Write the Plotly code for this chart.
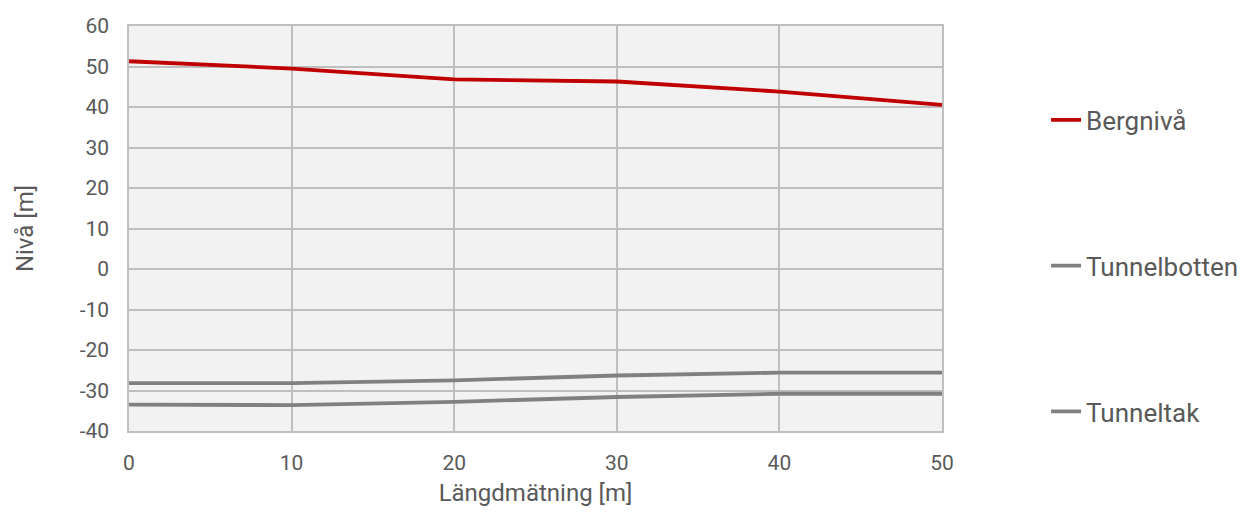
import plotly.graph_objects as go

x_vals = [0, 10, 20, 30, 40, 50]
bergniva = [51.3, 49.5, 46.8, 46.3, 43.8, 40.5]
tunnelbotten = [-28.2, -28.2, -27.5, -26.3, -25.6, -25.6]
tunneltak = [-33.5, -33.6, -32.8, -31.6, -30.8, -30.8]
y_ticks = [-40, -30, -20, -10, 0, 10, 20, 30, 40, 50, 60]
y_tick_labels = ["-40", "-30", "-20", "-10", "0", "10", "20", "30", "40", "50", "60"]

FONT = "Roboto"
TXT = "#595959"

fig = go.Figure()
fig.add_trace(go.Scatter(x=x_vals, y=bergniva, mode="lines", name="Bergnivå",
                         line=dict(color="#C00000", width=3.8), legendgroup="a"))
fig.add_trace(go.Scatter(x=x_vals, y=tunnelbotten, mode="lines", name="Tunnelbotten",
                         line=dict(color="#808080", width=3.8), legendgroup="b"))
fig.add_trace(go.Scatter(x=x_vals, y=tunneltak, mode="lines", name="Tunneltak",
                         line=dict(color="#808080", width=3.8), legendgroup="c"))

fig.update_layout(
    width=1257, height=515,
    margin=dict(l=129, r=315, t=26, b=84),
    paper_bgcolor="white",
    plot_bgcolor="#F2F2F2",
    font=dict(family=FONT, size=21, color=TXT),
    xaxis=dict(range=[0, 50], dtick=10, showgrid=True, gridcolor="#BFBFBF", gridwidth=1.5,
               zeroline=False, showline=True, linecolor="#BFBFBF", linewidth=1.5, mirror=True,
               ticks="", ticklabelstandoff=12,
               title=dict(text="Längdmätning [m]", font=dict(size=24, color=TXT), standoff=10)),
    yaxis=dict(range=[-40, 60], tickvals=y_ticks, ticktext=y_tick_labels,
               showgrid=True, gridcolor="#BFBFBF", gridwidth=1.5,
               zeroline=False, showline=True, linecolor="#BFBFBF", linewidth=1.5, mirror=True,
               ticks="", ticklabelstandoff=14,
               title=dict(text="Nivå [m]", font=dict(size=24, color=TXT), standoff=39)),
    legend=dict(x=1.128, y=0.826, xanchor="left", yanchor="top", tracegroupgap=109,
                font=dict(size=26, color=TXT), bgcolor="rgba(0,0,0,0)",
                traceorder="grouped"),
    showlegend=True,
)

fig.write_html("out.html")
